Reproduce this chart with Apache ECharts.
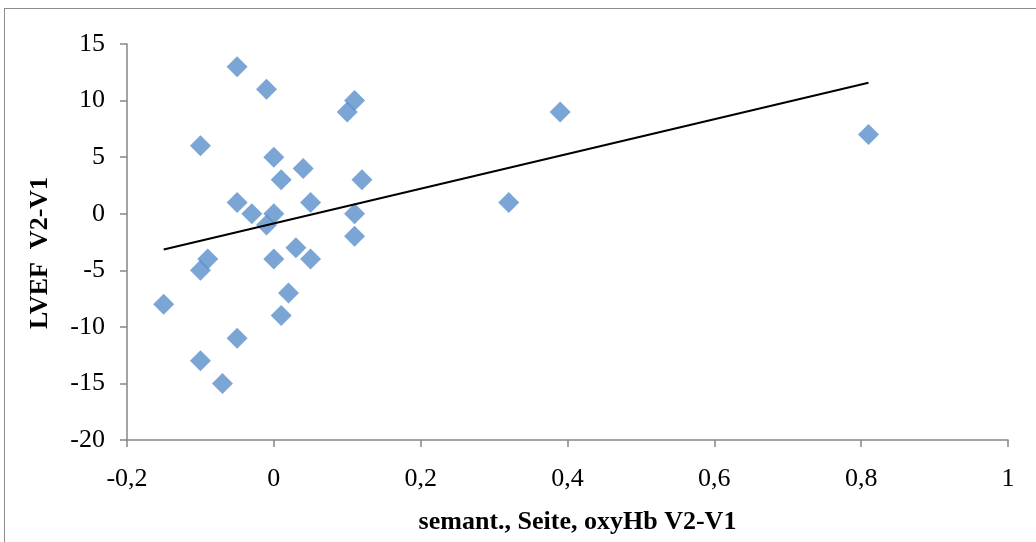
<!DOCTYPE html>
<html>
<head>
<meta charset="utf-8">
<script src="https://cdn.jsdelivr.net/npm/echarts@6/dist/echarts.min.js"></script>
<style>
    html, body { margin: 0; padding: 0; background: #fff; }
    #frame { position: absolute; left: 4px; top: 8px; width: 1040px; height: 540px; border-left: 1px solid #8c8c8c; border-top: 1px solid #8c8c8c; }
    #chart { position: absolute; left: 0; top: 0; width: 1036px; height: 542px; }
</style>
</head>
<body>
<div id="frame"></div>
<div id="chart"></div>
<script>
// semant., Seite, oxyHb V2-V1
const xValues = [-0.15, -0.1, -0.1, -0.1, -0.09, -0.07, -0.05, -0.05, -0.05, -0.03,
    -0.01, -0.01, 0, 0, 0, 0.01, 0.01, 0.02, 0.03, 0.04,
    0.05, 0.05, 0.1, 0.11, 0.11, 0.11, 0.12, 0.32, 0.39, 0.81]
// LVEF V2-V1
const yValues = [-8, -5, -13, 6, -4, -15, 13, 1, -11, 0,
    11, -1, 5, 0, -4, 3, -9, -7, -3, 4,
    1, -4, 9, 10, 0, -2, 3, 1, 9, 7]

const xName = 'semant., Seite, oxyHb V2-V1'
const yName = 'LVEF  V2-V1'

// lineare Trendlinie (kleinste Quadrate)
const n = xValues.length
const mx = xValues.reduce((a, b) => a + b, 0) / n
const my = yValues.reduce((a, b) => a + b, 0) / n
let sxy = 0, sxx = 0
xValues.forEach((x, i) => {
    sxy += (x - mx) * (yValues[i] - my)
    sxx += (x - mx) * (x - mx)
})
const slope = sxy / sxx
const icpt = my - slope * mx
const xMin = Math.min(...xValues)
const xMax = Math.max(...xValues)
const trend = [[xMin, icpt + slope * xMin], [xMax, icpt + slope * xMax]]

const chart = echarts.init(document.getElementById('chart'))
const labelFont = { color: '#000', fontFamily: 'Liberation Serif', fontSize: 26 }
const axisLineStyle = { lineStyle: { color: '#868686', width: 1.5 } }

chart.setOption({
    animation: false,
    grid: { left: 127, right: 28, top: 44, bottom: 102 },
    xAxis: {
        type: 'value',
        min: -0.2,
        max: 1,
        interval: 0.2,
        name: xName,
        nameLocation: 'middle',
        nameGap: 69,
        nameTextStyle: { ...labelFont, fontWeight: 'bold', padding: [0, 0, 0, 20] },
        axisLine: { show: true, onZero: false, ...axisLineStyle },
        axisTick: { show: true, length: 7, ...axisLineStyle },
        axisLabel: {
            ...labelFont,
            margin: 26,
            formatter: v => String(Math.round(v * 10) / 10).replace('.', ',')
        },
        splitLine: { show: false }
    },
    yAxis: {
        type: 'value',
        min: -20,
        max: 15,
        interval: 5,
        name: yName,
        nameLocation: 'middle',
        nameGap: 74,
        nameTextStyle: { ...labelFont, fontWeight: 'bold', padding: [0, 22, 0, 0] },
        axisLine: { show: true, onZero: false, ...axisLineStyle },
        axisTick: { show: true, length: 7, ...axisLineStyle },
        axisLabel: { ...labelFont, margin: 22 },
        splitLine: { show: false }
    },
    series: [
        {
            type: 'scatter',
            symbol: 'diamond',
            symbolSize: 21,
            itemStyle: { color: '#5a8fcb' },
            data: xValues.map((x, i) => [x, yValues[i]])
        },
        {
            type: 'line',
            showSymbol: false,
            lineStyle: { color: '#000', width: 2 },
            data: trend,
            z: 3
        }
    ]
})
</script>
</body>
</html>
